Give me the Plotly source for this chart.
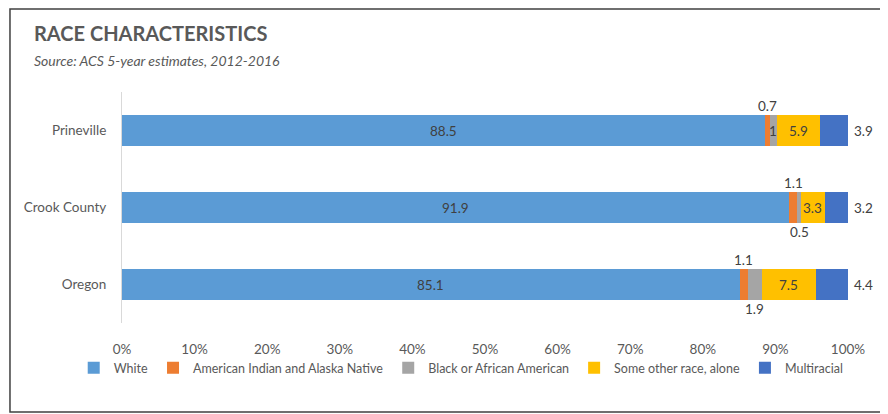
import plotly.graph_objects as go

places = ["Prineville", "Crook County", "Oregon"]
series = ["White", "American Indian and Alaska Native", "Black or African American",
          "Some other race, alone", "Multiracial"]
white = [88.5, 91.9, 85.1]
aian = [0.7, 1.1, 1.1]
black = [1.0, 0.5, 1.9]
other = [5.9, 3.3, 7.5]
multi = [3.9, 3.2, 4.4]
label_text = {
    "White": ["88.5", "91.9", "85.1"],
    "American Indian and Alaska Native": ["0.7", "1.1", "1.1"],
    "Black or African American": ["1", "0.5", "1.9"],
    "Some other race, alone": ["5.9", "3.3", "7.5"],
    "Multiracial": ["3.9", "3.2", "4.4"],
}
tick_vals = [0, 10, 20, 30, 40, 50, 60, 70, 80, 90, 100]
tick_text = ["0%", "10%", "20%", "30%", "40%", "50%", "60%", "70%", "80%", "90%", "100%"]

values = [white, aian, black, other, multi]
colors = ["#5B9BD5", "#ED7D31", "#A5A5A5", "#FFC000", "#4472C4"]

# label placement per series / place
placement = {
    "White": ["in", "in", "in"],
    "American Indian and Alaska Native": ["above", "above", "above"],
    "Black or African American": ["in", "below", "below"],
    "Some other race, alone": ["in", "in", "in"],
    "Multiracial": ["right", "right", "right"],
}

FONT = "Lato, Open Sans, sans-serif"
TXT = "#404040"
GRAY = "#595959"

fig = go.Figure()
for name, vals, col in zip(series, values, colors):
    fig.add_trace(go.Bar(
        y=places, x=vals, name=name, orientation="h",
        marker=dict(color=col, line=dict(width=0)),
        hoverinfo="x+name",
    ))

annotations = []
cum = [0.0, 0.0, 0.0]
for name, vals in zip(series, values):
    for i, p in enumerate(places):
        start = cum[i]
        end = round(start + vals[i], 6)
        mid = (start + end) / 2
        pos = placement[name][i]
        a = dict(y=p, xref="x", yref="y", text=label_text[name][i], showarrow=False,
                 font=dict(family=FONT, size=13.5, color=TXT))
        if pos == "in":
            a.update(x=mid, xanchor="center", yanchor="middle")
        elif pos == "above":
            a.update(x=mid, xanchor="center", yanchor="middle", yshift=25)
        elif pos == "below":
            a.update(x=mid, xanchor="center", yanchor="middle", yshift=-24)
        else:
            a.update(x=end, xanchor="left", yanchor="middle", xshift=4)
        annotations.append(a)
        cum[i] = end

annotations.append(dict(xref="paper", yref="paper", x=-0.1240, y=1.2554, xanchor="left",
                        yanchor="middle", showarrow=False, text="<b>RACE CHARACTERISTICS</b>",
                        font=dict(family=FONT, size=20, color=GRAY)))
annotations.append(dict(xref="paper", yref="paper", x=-0.1240, y=1.1385, xanchor="left",
                        yanchor="middle", showarrow=False,
                        text="<i>Source: ACS 5-year estimates, 2012-2016</i>",
                        font=dict(family=FONT, size=14, color=GRAY)))

fig.update_layout(
    width=880, height=406,
    margin=dict(l=114, r=40, t=84, b=91),
    barmode="stack", bargap=0.585,
    paper_bgcolor="white", plot_bgcolor="white",
    font=dict(family=FONT, size=13.5, color=GRAY),
    showlegend=True,
    legend=dict(orientation="h", x=-0.0665, xanchor="left", y=-0.195, yanchor="middle",
                font=dict(family=FONT, size=12.5, color=GRAY), itemwidth=30,
                traceorder="normal", bgcolor="rgba(0,0,0,0)"),
    xaxis=dict(range=[0, 100], tickvals=tick_vals, ticktext=tick_text, showgrid=False,
               zeroline=False, showline=False, ticks="", ticklabelstandoff=16,
               tickfont=dict(family=FONT, size=13.5, color=GRAY), fixedrange=True),
    yaxis=dict(categoryorder="array", categoryarray=places, autorange="reversed",
               showline=True, linecolor="#D9D9D9", linewidth=1, showgrid=False,
               zeroline=False, ticks="", ticklabelstandoff=12,
               tickfont=dict(family=FONT, size=13.5, color=GRAY), fixedrange=True),
    annotations=annotations,
    shapes=[dict(type="rect", xref="paper", yref="paper",
                 x0=-0.1543, x1=1.0496, y0=-0.385, y1=1.3593,
                 line=dict(color="#404040", width=1.5), fillcolor="rgba(0,0,0,0)", layer="below")],
)

fig.write_html("out.html")
